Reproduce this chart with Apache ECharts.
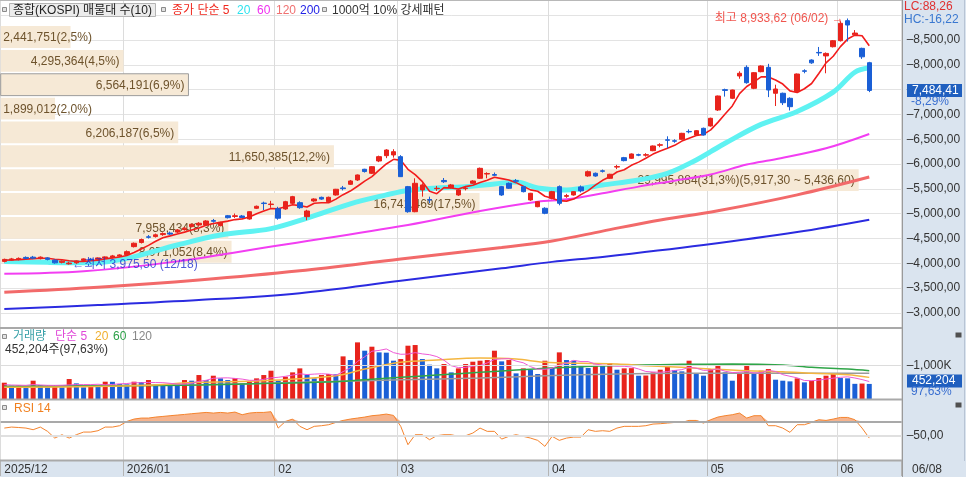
<!DOCTYPE html>
<html><head><meta charset="utf-8">
<script src="https://cdn.jsdelivr.net/npm/echarts@6.0.0/dist/echarts.min.js"></script>
<style>html,body{margin:0;padding:0;background:#dae4ef;}#c{width:966px;height:477px;}</style>
</head><body><div id="c"></div>
<script>
// ---------- DATA ----------
const dates = [
'2025/12/05','2025/12/08','2025/12/09','2025/12/10','2025/12/11','2025/12/12','2025/12/15','2025/12/16','2025/12/17','2025/12/18','2025/12/19','2025/12/22','2025/12/23','2025/12/24','2025/12/26','2025/12/29','2025/12/30',
'2026/01/02','2026/01/05','2026/01/06','2026/01/07','2026/01/08','2026/01/09','2026/01/12','2026/01/13','2026/01/14','2026/01/15','2026/01/16','2026/01/19','2026/01/20','2026/01/21','2026/01/22','2026/01/23','2026/01/26','2026/01/27','2026/01/28','2026/01/29','2026/01/30',
'2026/02/02','2026/02/03','2026/02/04','2026/02/05','2026/02/06','2026/02/09','2026/02/10','2026/02/11','2026/02/12','2026/02/13','2026/02/19','2026/02/20','2026/02/23','2026/02/24','2026/02/25','2026/02/26','2026/02/27',
'2026/03/03','2026/03/04','2026/03/05','2026/03/06','2026/03/09','2026/03/10','2026/03/11','2026/03/12','2026/03/13','2026/03/16','2026/03/17','2026/03/18','2026/03/19','2026/03/20','2026/03/23','2026/03/24','2026/03/25','2026/03/26','2026/03/27','2026/03/30','2026/03/31',
'2026/04/01','2026/04/02','2026/04/03','2026/04/06','2026/04/07','2026/04/08','2026/04/09','2026/04/10','2026/04/13','2026/04/14','2026/04/15','2026/04/16','2026/04/17','2026/04/20','2026/04/21','2026/04/22','2026/04/23','2026/04/24','2026/04/27','2026/04/28','2026/04/29','2026/04/30',
'2026/05/04','2026/05/06','2026/05/07','2026/05/08','2026/05/11','2026/05/12','2026/05/13','2026/05/14','2026/05/15','2026/05/18','2026/05/19','2026/05/20','2026/05/21','2026/05/22','2026/05/26','2026/05/27','2026/05/28','2026/05/29',
'2026/06/01','2026/06/02','2026/06/04','2026/06/05','2026/06/08'];
const padCount = 4;

const opens = [4040,4065,4080,4120,4125,4095,4110,4065,4020,3990,4010,4060,4085,4080,4110,4120,4145,
4175,4337,4420,4535,4540,4580,4610,4630,4680,4740,4773,4774,4862,4760,4960,4945,4955,4894,5110,5215,5185,
5100,5096,5210,5223,4941,5257,5330,5243,5378,5520,5593,5680,5896,5815,6063,6170,6184,
6150,5546,5041,5479,5285,5505,5670,5525,5378,5505,5613,5714,5800,5790,5546,5613,5665,5546,5277,5142,5110,
5311,5546,5350,5378,5540,5761,5815,5865,5714,5940,6130,6117,6190,6180,6270,6380,6490,6470,6500,6658,6587,6721,
6768,7090,7500,7326,7775,7950,7527,7862,7950,7427,7427,7326,7460,7880,8097,8250,8180,8365,
8486,8890,8605,8332,8043];
const closes = [4080,4090,4100,4100,4105,4125,4080,4010,4045,4005,4050,4090,4075,4110,4130,4150,4170,
4236,4405,4480,4525,4575,4600,4590,4673,4710,4788,4808,4854,4848,4828,4920,4960,4925,5041,5150,5205,5195,
4910,5243,5344,5122,5055,5297,5295,5331,5493,5505,5660,5781,5850,5948,6150,6284,6250,
5747,5041,5613,5580,5277,5513,5645,5580,5479,5513,5660,5915,5810,5775,5378,5513,5655,5445,5412,5243,5009,
5445,5210,5365,5445,5460,5847,5760,5855,5795,5950,6070,6204,6180,6190,6365,6390,6480,6462,6620,6650,6673,6587,
6923,7372,7485,7493,7830,7640,7842,7977,7493,7513,7237,7157,7815,7870,8040,8240,8230,8486,
8837,8802,8640,8161.34,7484.41];
const lows = [4020,4050,4060,4080,4085,4080,4060,3995,4000,3975.5,3990,4040,4050,4060,4090,4100,4130,
4165,4320,4400,4500,4520,4555,4570,4610,4660,4725,4760,4765,4820,4745,4905,4915,4910,4880,5095,5075,5120,
4880,5080,5195,5100,4870,5240,5280,5230,5365,5470,5580,5660,5830,5800,6040,6120,6130,
5740,5020,5030,5344,5210,5460,5620,5510,5360,5470,5600,5700,5714,5760,5360,5500,5620,5430,5260,5130,4990,
5290,5170,5320,5365,5430,5745,5745,5830,5700,5900,6055,6105,6160,6150,6260,6340,6320,6430,6490,6620,6575,6575,
6755,7070,7360,7310,7720,7620,7510,7850,7350,7170,7190,7080,7450,7830,8020,8180,7830,8350,
8470,8470,8580,8120,7450];
const highs = [4095,4110,4120,4140,4150,4140,4125,4080,4060,4030,4060,4100,4110,4120,4140,4170,4185,
4260,4420,4500,4570,4600,4625,4640,4690,4730,4800,4830,4870,4895,4840,4975,5005,4975,5050,5165,5243,5260,
5140,5260,5360,5250,5080,5310,5345,5345,5500,5560,5680,5790,5905,5960,6170,6300,6300,
6180,5560,5714,5613,5344,5560,5720,5600,5490,5560,5675,5930,5835,5830,5560,5630,5700,5560,5420,5255,5130,
5460,5570,5400,5455,5570,5870,5830,5890,5805,5985,6145,6215,6210,6220,6375,6420,6560,6500,6630,6700,6685,6735,
6935,7380,7520,7500,7870,7990,7855,7990,8020,7600,7440,7345,7825,7910,8110,8360,8250,8500,
8880,8933.62,8700,8345,8060];

// volume (천주)
const volumes = [489000,399000,405000,329000,549000,419000,349000,399000,349000,599000,469000,349000,399000,395000,519000,515000,449000,
440000,519000,510000,569000,429000,425000,420000,399000,569000,549000,719000,569000,699000,619000,569000,629000,469000,519000,619000,719000,849000,
549000,669000,799000,919000,729000,619000,719000,749000,740000,1279000,1169000,1699000,1449000,1569000,1399000,1390000,1149000,
1199000,1599000,1619000,1199000,1029000,919000,1049000,799000,919000,1049000,1119000,1149000,1169000,1449000,1129000,1169000,769000,919000,869000,749000,1149000,
929000,1399000,1169000,1149000,969000,929000,1029000,999000,1079000,879000,919000,925000,699000,705000,799000,879000,1029000,869000,829000,1149000,749000,699000,
899000,1019000,799000,549000,749000,1019000,779000,849000,899000,579000,549000,529000,619000,499000,549000,629000,699000,749000,
629000,620000,455000,463180,452204];

// moving averages: [bar index, value]
const priceMa5Head = [4065,4068,4075,4085];
const ma20Pts = [[0,4040],[6,4020],[12,4010],[17,4100],[24,4370],[30,4570],[37,4700],[42,4910],[48,5200],[53,5380],[56,5470],[60,5520],[64,5545],[68,5600],[71,5640],[74,5520],[78,5480],[83,5580],[88,5680],[92,5815],[96,6083],[98,6250],[100,6420],[105,6800],[110,7060],[115,7450],[118,7850],[120,7940]];
const ma60Pts = [[0,3790],[11,3840],[24,4040],[38,4360],[56,4773],[66,5056],[74,5243],[78,5290],[83,5412],[88,5546],[93,5666],[98,5790],[103,5990],[107,6097],[114,6319],[120,6607]];
const ma120Pts = [[0,3420],[13,3520],[27,3665],[41,3850],[55,4090],[69,4320],[76,4450],[83,4650],[90,4850],[99,5060],[110,5380],[120,5740]];
const ma200Pts = [[0,3080],[13,3160],[27,3260],[41,3400],[55,3650],[69,3900],[76,4030],[83,4130],[97,4370],[110,4630],[120,4880]];

const volMa5Head = [430000,420000,415000,410000];
const volMa20Pts = [[0,349000],[18,399000],[27,499000],[36,549000],[46,699000],[50,899000],[55,1099000],[60,1169000],[66,1229000],[71,1199000],[75,1099000],[80,1069000],[85,1049000],[89,999000],[94,949000],[98,899000],[103,849000],[108,819000],[112,769000],[117,729000],[120,649000]];
const volMa60Pts = [[0,379000],[17,399000],[27,419000],[37,469000],[46,519000],[50,579000],[55,649000],[60,719000],[66,799000],[71,869000],[75,919000],[80,969000],[87,1019000],[94,1039000],[101,1049000],[108,1019000],[112,949000],[117,899000],[120,849000]];
const volMa120Pts = [[0,369000],[13,399000],[27,429000],[41,499000],[50,549000],[55,579000],[66,629000],[75,699000],[85,749000],[94,769000],[103,779000],[112,769000],[120,769000]];

const rsi14 = [60.7,62.1,61.5,60.7,58.4,62.1,56.1,46.7,51.4,46.7,51.4,55.1,55.1,57.0,62.1,62.1,64.0,
70.0,73.3,74.7,74.7,76.1,77.0,78.0,78.9,79.8,80.8,81.7,82.6,81.7,82.6,81.7,83.1,79.4,81.7,82.6,82.6,83.6,
60.7,70.0,73.3,63.1,58.4,63.1,64.0,65.4,68.6,71.4,73.3,74.7,76.1,78.0,78.9,80.3,78.4,
63.1,37.4,51.4,51.4,44.4,50.0,51.4,51.4,49.1,50.0,53.7,60.7,56.1,56.1,45.3,49.1,51.4,49.1,46.7,43.5,35.1,
49.1,43.5,46.7,48.1,48.1,58.4,56.1,57.0,56.1,60.7,63.1,63.1,63.1,64.0,66.3,66.8,67.7,68.6,68.6,71.4,71.4,67.7,
72.4,76.1,78.0,79.4,81.7,74.7,78.0,78.0,64.0,64.0,60.7,54.7,65.4,65.4,68.6,72.4,71.4,73.3,
75.6,75.6,72.4,60.7,46.7];
const rsiUpper = 70, rsiMid = 50;

// price-volume profile (매물대), bottom bin first
const binEdges = [3994.5,4475.2,4955.9,5436.6,5917.3,6398.0,6878.7,7359.4,7840.1,8320.8,8801.5];
const binVolumes = [8071052,7958434,16741469,29995884,11650385,6206187,1899012,6564191,4295364,2441751];

const priceTicks = [3000,3500,4000,4500,5000,5500,6000,6500,7000,7500,8000,8500];
const volTicks = [1000000];
const rsiTicks = [50];
const lcText = 'LC:88,26', hcText = 'HC:-16,22';

// ---------- HELPERS ----------
const FONT = '"Liberation Sans","Noto Sans CJK KR",sans-serif';
const F12 = '12px ' + FONT;
const UP = '#e8231c', DOWN = '#1a5fd6';
const TICK = '–';
function fmt(v, d){
  const s = Number(v).toFixed(d); const parts = s.split('.');
  let a = parts[0]; const neg = a[0] === '-'; if (neg) a = a.slice(1);
  a = a.replace(/\B(?=(\d{3})+(?!\d))/g, ',');
  return (neg ? '-' : '') + a + (parts[1] !== undefined ? ',' + parts[1] : '');
}
function sma(arr, n, head){
  return arr.map((v, i) => {
    if (i < n - 1) return head[i];
    let s = 0; for (let k = i - n + 1; k <= i; k++) s += arr[k];
    return s / n;
  });
}
const measureCtx = document.createElement('canvas').getContext('2d');
measureCtx.font = F12;
const textW = t => measureCtx.measureText(t).width;

const N = dates.length;
const cats = dates.concat(new Array(padCount).fill(''));
const monthStart = i => i < N && (i === 0 || dates[i].slice(0, 7) !== dates[i - 1].slice(0, 7));
const monthLabel = (v, i) => (i === 0 || v.slice(0, 4) !== dates[i - 1].slice(0, 4)) ? v.slice(0, 7) : v.slice(5, 7);

const ohlc = opens.map((o, i) => [o, closes[i], lows[i], highs[i]]);
const ma5 = sma(closes, 5, priceMa5Head);
const volMa5 = sma(volumes, 5, volMa5Head);
const rsiBase = rsi14.map(() => rsiUpper);
const rsiExcess = rsi14.map(v => Math.max(v - rsiUpper, 0));

const lastClose = closes[N - 1], prevClose = closes[N - 2];
const lastVol = volumes[N - 1], prevVol = volumes[N - 2];
const lowVal = Math.min(...lows), lowIdx = lows.indexOf(lowVal);
const highVal = Math.max(...highs), highIdx = highs.indexOf(highVal);

const binTotal = binVolumes.reduce((a, b) => a + b, 0);
const binMaxIdx = binVolumes.indexOf(Math.max(...binVolumes));
let binCurIdx = 0; for (let k = 0; k < binVolumes.length; k++) if (lastClose >= binEdges[k] && lastClose < binEdges[k + 1]) binCurIdx = k;
const binData = binVolumes.map((v, k) => [v, binEdges[k], binEdges[k + 1], k]);
function binLabel(k){
  const v = binVolumes[k];
  let t = fmt(v, 0) + '(' + fmt(v / binTotal * 100, 1) + '%)';
  if (k === binMaxIdx) t += '(' + fmt(binEdges[k + 1], 2) + ' ~ ' + fmt(binEdges[k], 2) + ')';
  return t;
}

// ---------- CHART ----------
const chart = echarts.init(document.getElementById('c'));
const GL = 0.7, GW = 901;
const axLabel = {color: '#333', fontSize: 12, fontFamily: FONT};
function catAxis(grid, extra){
  return Object.assign({type: 'category', gridIndex: grid, data: cats, boundaryGap: true,
    axisLine: {show: false}, axisTick: {show: false}, axisLabel: {show: false}, splitLine: {show: false}}, extra || {});
}
function rightAxis(grid, extra){
  return Object.assign({type: 'value', gridIndex: grid, position: 'right', offset: 0,
    axisLine: {show: false}, axisTick: {show: false}, minorTick: {show: false}, splitLine: {show: false}}, extra);
}
const lineBase = {type: 'line', symbol: 'none', silent: true, smooth: 0.35, xAxisIndex: 0, yAxisIndex: 0, z: 3};

const option = {
  backgroundColor: '#dae4ef',
  animation: false,
  grid: [
    {left: GL, width: GW, top: 15.2, height: 297.8, outerBoundsMode: 'none'},
    {left: GL, width: GW, top: 329, height: 70, outerBoundsMode: 'none'},
    {left: GL, width: GW, top: 400, height: 60, outerBoundsMode: 'none'},
    {left: GL, width: GW, top: 0, height: 461, outerBoundsMode: 'none'}
  ],
  xAxis: [
    catAxis(0),
    {type: 'value', gridIndex: 0, min: 0, max: 31500000, show: false},
    catAxis(1),
    catAxis(2, {axisLabel: {show: true, interval: (i) => monthStart(i), formatter: monthLabel, align: 'left', margin: 4, color: '#333', fontSize: 12, fontFamily: FONT},
                axisTick: {show: true, interval: (i) => monthStart(i), length: 16, lineStyle: {color: '#b4b4b4'}}}),
    catAxis(3, {splitLine: {show: true, interval: (i) => monthStart(i), lineStyle: {color: '#dcdcdc', width: 1}}})
  ],
  yAxis: [
    rightAxis(0, {min: 3000, max: 9000, interval: 500,
      axisLabel: Object.assign({margin: 5, customValues: priceTicks, formatter: v => TICK + fmt(v, 2)}, axLabel),
      splitLine: {show: true, lineStyle: {color: '#e3e3e3'}}}),
    rightAxis(1, {min: 0, max: 2100000,
      axisLabel: Object.assign({margin: 5, customValues: volTicks, formatter: v => TICK + fmt(v / 1000, 0) + 'K'}, axLabel)}),
    rightAxis(2, {min: 16, max: 100,
      axisLabel: Object.assign({margin: 5, customValues: rsiTicks, formatter: v => TICK + fmt(v, 2)}, axLabel)}),
    {type: 'value', gridIndex: 3, show: false}
  ],
  series: [
    {type: 'custom', xAxisIndex: 1, yAxisIndex: 0, z: 1, silent: true, data: binData, encode: {x: 0, y: [1, 2]},
     renderItem: function(params, api){
       const k = api.value(3);
       const tl = api.coord([0, api.value(2)]);
       const br = api.coord([api.value(0), api.value(1)]);
       const hl = (k === binCurIdx);
       const label = binLabel(k);
       const fits = textW(label) + 7 <= br[0] - tl[0];
       return {type: 'group', children: [
         {type: 'rect', shape: {x: tl[0], y: tl[1] + 1, width: br[0] - tl[0], height: br[1] - tl[1] - 2},
          style: {fill: '#f6e9d6', stroke: hl ? '#9c9c9c' : null, lineWidth: hl ? 1 : 0}},
         {type: 'text', style: {x: fits ? br[0] - 4 : tl[0] + 2.5, y: (tl[1] + br[1]) / 2 + 1, text: label, align: fits ? 'right' : 'left', verticalAlign: 'middle',
          fill: '#6e532c', font: F12}}
       ]};
     }},
    Object.assign({}, lineBase, {data: ma200Pts, lineStyle: {color: '#2b2be0', width: 2}}),
    Object.assign({}, lineBase, {data: ma120Pts, lineStyle: {color: '#f26a6a', width: 3}}),
    Object.assign({}, lineBase, {data: ma60Pts, lineStyle: {color: '#f23ef2', width: 2}}),
    Object.assign({}, lineBase, {data: ma20Pts, lineStyle: {color: '#5ff2f2', width: 5}}),
    Object.assign({}, lineBase, {data: ma5, smooth: false, lineStyle: {color: '#f21c1c', width: 1.6}}),
    {type: 'candlestick', xAxisIndex: 0, yAxisIndex: 0, data: ohlc, barWidth: 5, z: 5, silent: true,
     itemStyle: {color: UP, color0: DOWN, borderColor: UP, borderColor0: DOWN, borderWidth: 1}},
    {type: 'scatter', xAxisIndex: 0, yAxisIndex: 0, symbolSize: 2, z: 6, silent: true,
     itemStyle: {color: 'rgba(0,0,0,0)'},
     data: [
       {value: [lowIdx, lowVal], label: {show: true, position: 'right', distance: 2, color: '#1f2fd0', fontSize: 12, fontFamily: FONT,
         formatter: '←최저 ' + fmt(lowVal, 2) + ' (' + dates[lowIdx].slice(5) + ')'}},
       {value: [highIdx, highVal], label: {show: true, position: 'left', distance: 3, color: '#ec2a22', fontSize: 12, fontFamily: FONT,
         formatter: '최고 ' + fmt(highVal, 2) + ' (' + dates[highIdx].slice(5) + ') →'}}
     ]},
    {type: 'bar', xAxisIndex: 2, yAxisIndex: 1, data: volumes, barWidth: 5, silent: true,
     itemStyle: {color: p => (p.dataIndex > 0 && volumes[p.dataIndex] < volumes[p.dataIndex - 1]) ? DOWN : UP},
     markLine: {silent: true, symbol: 'none', label: {show: false}, data: [{yAxis: volTicks[0]}], lineStyle: {color: '#dcdcdc', type: 'solid', width: 1}}},
    {type: 'line', xAxisIndex: 2, yAxisIndex: 1, data: volMa120Pts, symbol: 'none', smooth: 0.35, silent: true, lineStyle: {color: '#9a9a9a', width: 1.5}},
    {type: 'line', xAxisIndex: 2, yAxisIndex: 1, data: volMa60Pts, symbol: 'none', smooth: 0.35, silent: true, lineStyle: {color: '#2fa548', width: 1.5}},
    {type: 'line', xAxisIndex: 2, yAxisIndex: 1, data: volMa20Pts, symbol: 'none', smooth: 0.35, silent: true, lineStyle: {color: '#f4b640', width: 1.5}},
    {type: 'line', xAxisIndex: 2, yAxisIndex: 1, data: volMa5, symbol: 'none', silent: true, lineStyle: {color: '#ef5ad6', width: 1}},
    {type: 'line', xAxisIndex: 3, yAxisIndex: 2, data: rsiBase, stack: 'rsi', symbol: 'none', silent: true, lineStyle: {opacity: 0},
     markLine: {silent: true, symbol: 'none', label: {show: false}, data: [
       {yAxis: rsiUpper, lineStyle: {color: '#a9a9a9', width: 2, type: 'solid'}},
       {yAxis: rsiMid, lineStyle: {color: '#e0e0e0', width: 2, type: 'solid'}}]}},
    {type: 'line', xAxisIndex: 3, yAxisIndex: 2, data: rsiExcess, stack: 'rsi', symbol: 'none', silent: true, lineStyle: {opacity: 0},
     areaStyle: {color: '#f6b48e', opacity: 1}},
    {type: 'line', xAxisIndex: 3, yAxisIndex: 2, data: rsi14, symbol: 'none', silent: true, z: 4, lineStyle: {color: '#f5842e', width: 1}}
  ]
};
chart.setOption(option);

// ---------- overlay texts / panel decoration ----------
const yPrice = chart.convertToPixel({yAxisIndex: 0}, lastClose);
const yVol = chart.convertToPixel({yAxisIndex: 1}, lastVol);
function ln(x1, y1, x2, y2, c, w){ return {type: 'line', z: 8, silent: true, shape: {x1, y1, x2, y2}, style: {stroke: c, lineWidth: w}}; }
function tx(x, y, t, c){ return {type: 'text', z: 9, silent: true, x: x, y: y, style: {text: t, fill: c, font: F12, verticalAlign: 'middle'}}; }
function sq(x, y){ return {type: 'rect', z: 9, silent: true, shape: {x: x, y: y, width: 4, height: 4}, style: {fill: '#e2e2e2', stroke: '#8a8a8a', lineWidth: 1}}; }
const pct = (lastClose / prevClose - 1) * 100;
const volPct = lastVol / prevVol * 100;
const graphic = [
  {type: 'rect', z: -10, silent: true, shape: {x: 0, y: 0, width: 902, height: 461}, style: {fill: '#ffffff'}},
  ln(0, 0.5, 902, 0.5, '#b8b8b8', 1),
  ln(0, 328, 902, 328, '#a9a9a9', 2),
  ln(0, 399.5, 902, 399.5, '#a9a9a9', 2),
  ln(0, 460.5, 902, 460.5, '#a9a9a9', 2),
  ln(902.5, 0, 902.5, 477, '#9a9a9a', 1),
  ln(964.5, 0, 964.5, 461, '#b8c4d4', 1),
  // top legend
  sq(2.5, 7.5),
  {type: 'rect', z: 8, silent: true, shape: {x: 9.5, y: 3.5, width: 146, height: 13}, style: {fill: '#ececec', stroke: '#b4b4b4', lineWidth: 1}},
  tx(13, 10.5, '종합(KOSPI) 매물대 수(10)', '#222'),
  sq(161.5, 7.5),
  tx(172, 10.5, '종가 단순 5', '#f0281e'),
  tx(237, 10.5, '20', '#2ee3ee'),
  tx(257, 10.5, '60', '#f030f0'),
  tx(276, 10.5, '120', '#f07070'),
  tx(300, 10.5, '200', '#2323e6'),
  sq(322.5, 7.5),
  tx(332, 10.5, '1000억 10% 강세패턴', '#333'),
  // volume legend
  sq(2.5, 334.5),
  tx(13, 337, '거래량', '#36a0a8'),
  tx(55, 337, '단순 5', '#e048d8'),
  tx(95, 337, '20', '#f0b030'),
  tx(113, 337, '60', '#2ca048'),
  tx(132, 337, '120', '#888888'),
  tx(5, 350, fmt(lastVol, 0) + '주(' + fmt(volPct, 2) + '%)', '#333'),
  // rsi legend
  sq(2.5, 405.5),
  tx(14, 408.5, 'RSI 14', '#f08020'),
  // right panel
  tx(904, 7, lcText, '#e03030'),
  tx(904, 19.5, hcText, '#3a78d0'),
  {type: 'rect', z: 9, silent: true, shape: {x: 907, y: yPrice - 6.5, width: 55, height: 13}, style: {fill: '#1f5fbf'}},
  tx(912, yPrice, fmt(lastClose, 2), '#ffffff'),
  tx(911, yPrice + 11, fmt(pct, 2) + '%', '#3a6fd0'),
  {type: 'rect', z: 9, silent: true, shape: {x: 907, y: yVol - 9.5, width: 55, height: 13}, style: {fill: '#1f5fbf'}},
  tx(912, yVol - 3, fmt(lastVol, 0), '#ffffff'),
  tx(911, yVol + 8, fmt(volPct, 2) + '%', '#3a6fd0'),
  {type: 'rect', z: 9, silent: true, shape: {x: 955.5, y: 332.5, width: 6, height: 5}, style: {fill: '#505050'}},
  {type: 'rect', z: 9, silent: true, shape: {x: 955.5, y: 402.5, width: 6, height: 5}, style: {fill: '#505050'}},
  tx(912, 470, dates[N - 1].slice(5), '#333')
];
chart.setOption({graphic: graphic});
</script></body></html>
